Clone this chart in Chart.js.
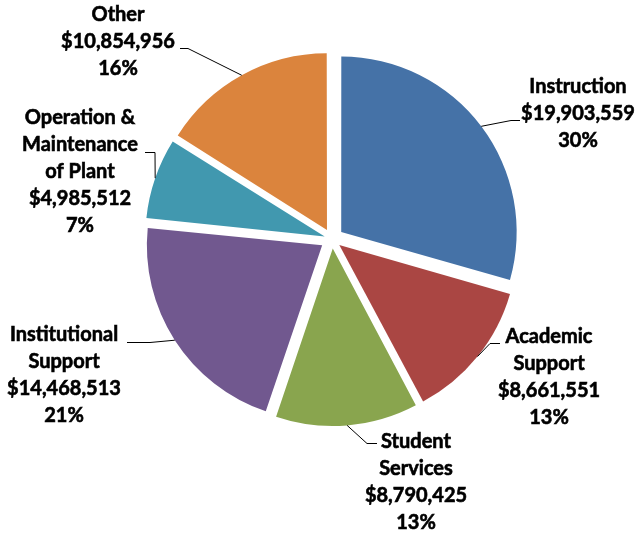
<!DOCTYPE html>
<html>
<head>
<meta charset="utf-8">
<script src="https://cdn.jsdelivr.net/npm/chart.js@4"></script>
<style>
  html, body { margin: 0; padding: 0; background: #fff; }
  canvas { display: block; }
</style>
</head>
<body>
<canvas id="pie" width="639" height="538"></canvas>
<script>
// data
const categories = ['Instruction', 'Academic Support', 'Student Services', 'Institutional Support', 'Operation & Maintenance of Plant', 'Other'];
const nameLines = [['Instruction'], ['Academic', 'Support'], ['Student', 'Services'], ['Institutional', 'Support'], ['Operation &', 'Maintenance', 'of Plant'], ['Other']];
const amounts = [19903559, 8661551, 8790425, 14468513, 4985512, 10854956];
const percentLabels = ['30%', '13%', '13%', '21%', '7%', '16%'];
const colors = ['#4572A7', '#AA4643', '#89A54E', '#71588F', '#4198AF', '#DB843D'];

// where each label block sits, and the elbow of its leader line
const labelLayout = [
    { x: 578, y: 87, elbow: [511, 120], end: [520, 120] },
    { x: 549, y: 337, elbow: [490, 343], end: [500, 343] },
    { x: 416, y: 442, elbow: [367, 443], end: [377, 443] },
    { x: 64, y: 335, elbow: [150, 342], end: [127, 342] },
    { x: 80, y: 118, elbow: [155, 152], end: [145, 152] },
    { x: 118, y: 15, elbow: [188, 48], end: [180, 48] }
];

const GAP = 12;
const FONT = 'bold 20px Lato, "Liberation Sans", sans-serif';
const LINE_H = 27;

// chart.js shifts an arc by offset/4 * (1 + fix); pick offsets so every slice moves GAP px
function sliceOffset(ctx) {
    const data = ctx.dataset.data;
    const total = data.reduce((a, b) => a + b, 0);
    const circ = data[ctx.dataIndex] / total * 2 * Math.PI;
    const fix = 1 - Math.sin(Math.min(Math.PI, circ));
    return 4 * GAP / (1 + fix);
}

const leaderLabels = {
    id: 'leaderLabels',
    afterDatasetsDraw(chart) {
        const ctx = chart.ctx;
        const meta = chart.getDatasetMeta(0);
        ctx.save();
        meta.data.forEach((arc, i) => {
            const lay = labelLayout[i];
            const off = (arc.options.offset || 0) / 4;
            const fix = 1 - Math.sin(Math.min(Math.PI, arc.circumference));
            const half = (arc.startAngle + arc.endAngle) / 2;
            const r = arc.outerRadius + off * (1 + fix);
            const sx = arc.x + Math.cos(half) * r;
            const sy = arc.y + Math.sin(half) * r;

            ctx.strokeStyle = '#000';
            ctx.lineWidth = 1;
            ctx.beginPath();
            ctx.moveTo(sx, sy);
            ctx.lineTo(lay.elbow[0], lay.elbow[1] + 0.5);
            ctx.lineTo(lay.end[0], lay.end[1] + 0.5);
            ctx.stroke();

            const lines = nameLines[i].concat(['$' + amounts[i].toLocaleString('en-US'), percentLabels[i]]);
            ctx.fillStyle = '#000';
            ctx.font = FONT;
            ctx.textAlign = 'center';
            ctx.textBaseline = 'middle';
            ctx.lineWidth = 0.6;
            lines.forEach((t, k) => {
                ctx.fillText(t, lay.x, lay.y + k * LINE_H);
                ctx.strokeText(t, lay.x, lay.y + k * LINE_H);
            });
        });
        ctx.restore();
    }
};

new Chart(document.getElementById('pie').getContext('2d'), {
    type: 'pie',
    data: {
        labels: categories,
        datasets: [{
            data: amounts,
            backgroundColor: colors,
            borderWidth: 0,
            offset: sliceOffset
        }]
    },
    options: {
        responsive: false,
        devicePixelRatio: 1,
        animation: false,
        radius: 175,
        layout: { padding: { left: 65, right: 40, top: 40, bottom: 100 } },
        plugins: {
            legend: { display: false },
            tooltip: { enabled: false }
        }
    },
    plugins: [leaderLabels]
});
</script>
</body>
</html>
